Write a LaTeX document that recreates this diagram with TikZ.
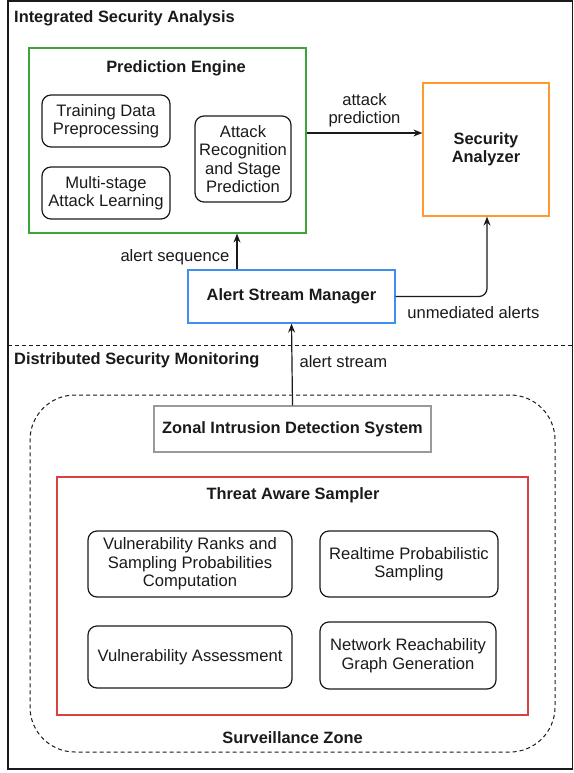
\documentclass[tikz,border=0pt]{standalone}
\usepackage{fontspec}
\setmainfont{Liberation Sans}
\usetikzlibrary{arrows.meta}

\definecolor{txt}{HTML}{1A1A1A}
\definecolor{pegreen}{HTML}{3AA63A}
\definecolor{saorange}{HTML}{FF9A33}
\definecolor{asmblue}{HTML}{3D8FF0}
\definecolor{tasred}{HTML}{D94040}
\definecolor{zidsgray}{HTML}{999999}

\tikzset{
  every node/.style={text=txt, font=\fontsize{16.6}{18.5}\selectfont},
  frame/.style={draw, rectangle, line width=1.2pt},
  task/.style={draw=txt, rectangle, rounded corners=9pt, line width=1.2pt, align=center},
  title/.style={font=\fontsize{16.4}{18.5}\selectfont\bfseries, inner sep=0pt},
  lbl/.style={inner sep=0pt, align=center},
  dashline/.style={dash pattern=on 4pt off 3pt, line width=1pt, draw=txt},
  flow/.style={-{Stealth[length=9pt, width=7pt]}, line width=1.2pt, draw=txt}
}

\begin{document}
\begin{tikzpicture}[x=1pt, y=-1pt]
  \useasboundingbox (0,0) rectangle (573,773);
  \draw[line width=1.2pt, draw=txt] (8,1) rectangle (572.5,769);
  \draw[dashline] (8,345) -- (573,345);

  \node (top_t) [title, anchor=west] at (14,18) {Integrated Security Analysis};
  \node (bot_t) [title, anchor=west] at (14,360) {Distributed Security Monitoring};

  % analysis side
  \node (engine) [frame, draw=pegreen, minimum width=277pt, minimum height=185pt]
        at (167.5,140.5) {};
  \node (engine_t) [title] at (176,68) {Prediction Engine};
  \node (train) [task, minimum width=128pt, minimum height=52pt] at (106,121)
        {Training Data\\Preprocessing};
  \node (learn) [task, minimum width=128pt, minimum height=52pt] at (106,193)
        {Multi-stage\\Attack Learning};
  \node (recog) [task, minimum width=96pt, minimum height=86pt] at (243,159)
        {Attack\\Recognition\\and Stage\\Prediction};
  \node (analyzer) [frame, draw=saorange, minimum width=126pt, minimum height=133pt,
        title, align=center] at (486,149.5) {Security\\Analyzer};
  \node (manager) [frame, draw=asmblue, minimum width=207pt, minimum height=53pt,
        title] at (291.5,296.5) {Alert Stream Manager};

  % monitoring side
  \node (zone) [dashline, rounded corners=45pt,
        minimum width=525pt, minimum height=357pt] at (292.5,573.5) {};
  \node (zone_t) [title] at (292.5,738) {Surveillance Zone};
  \node (zids) [frame, draw=zidsgray, minimum width=277pt, minimum height=46pt,
        title] at (292.5,429) {Zonal Intrusion Detection System};
  \node (sampler) [frame, draw=tasred, minimum width=471pt, minimum height=238pt]
        at (292.5,596) {};
  \node (sampler_t) [title] at (293,495) {Threat Aware Sampler};
  \node (ranks) [task, minimum width=204pt, minimum height=66pt] at (190,564)
        {Vulnerability Ranks and\\Sampling Probabilities\\Computation};
  \node (realtime) [task, minimum width=178pt, minimum height=66pt] at (409,564)
        {Realtime Probabilistic\\Sampling};
  \node (assess) [task, minimum width=204pt, minimum height=62pt] at (190,657)
        {Vulnerability Assessment};
  \node (reach) [task, minimum width=176pt, minimum height=67pt] at (408,655.5)
        {Network Reachability\\Graph Generation};

  % flows
  \draw[flow] ([xshift=-54.5pt]manager.north) -- ([xshift=69.5pt]engine.south)
        node[lbl, anchor=east, pos=0.35, xshift=-7pt] {alert sequence};
  \draw[flow] ([yshift=7.5pt]engine.east) -- ([yshift=16.5pt]analyzer.west)
        node[lbl, midway, above=5pt] {attack\\prediction};
  \draw[flow, rounded corners=8pt] (manager.east) -| ([xshift=1pt]analyzer.south)
        node[lbl, pos=0.42, below=9pt, xshift=1pt] {unmediated alerts};
  \draw[flow] (zids.north) -- (manager.south)
        node[lbl, anchor=west, pos=0.54, xshift=7pt] {alert stream};
\end{tikzpicture}
\end{document}
